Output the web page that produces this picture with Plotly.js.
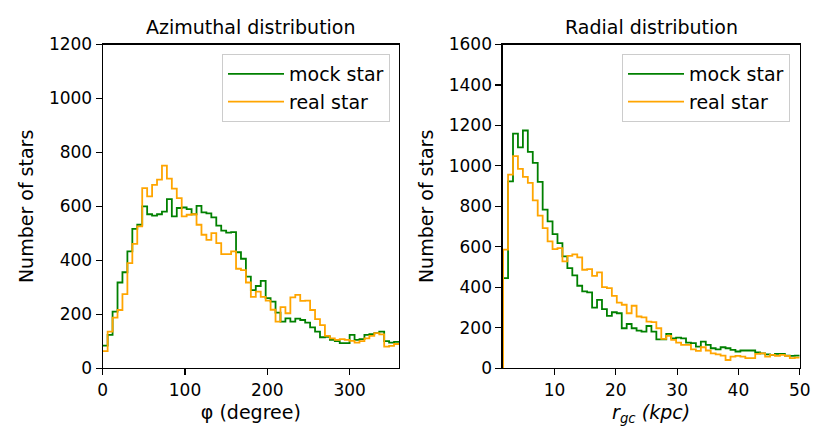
<!DOCTYPE html>
<html>
<head>
<meta charset="utf-8">
<script src="https://cdn.plot.ly/plotly-3.0.1.min.js"></script>
<style>
  html, body { margin: 0; padding: 0; background: #fff; }
  #chart { width: 830px; height: 447px; }
</style>
</head>
<body>
<div id="chart"></div>
<script>
// azimuthal histogram, 60 bins over 0..360 degree
const phiRange = [0, 360];
const mockPhi = [84, 124, 210, 318, 356, 433, 517, 532, 600, 571,
  566, 571, 581, 627, 563, 594, 596, 590, 571, 602,
  578, 574, 559, 529, 510, 503, 505, 430, 406, 340,
  290, 305, 324, 260, 247, 206, 173, 185, 173, 184,
  179, 169, 152, 136, 115, 117, 105, 101, 93, 93,
  124, 105, 108, 124, 127, 130, 136, 101, 95, 98];
const realPhi = [64, 136, 188, 216, 275, 390, 461, 526, 668, 637,
  680, 699, 751, 703, 666, 631, 563, 569, 571, 532,
  495, 476, 501, 464, 423, 423, 433, 369, 364, 318,
  265, 284, 265, 251, 217, 173, 227, 204, 263, 272,
  250, 251, 216, 182, 160, 120, 111, 105, 108, 105,
  102, 95, 101, 111, 120, 130, 126, 80, 83, 90];

// radial histogram, 60 bins over 1.6..50 kpc
const rRange = [1.6, 50];
const mockR = [446, 924, 1160, 1092, 1175, 1069, 1015, 921, 784, 726,
  663, 619, 553, 495, 459, 408, 380, 375, 300, 338,
  292, 259, 277, 272, 198, 219, 198, 186, 181, 209,
  181, 143, 143, 170, 148, 152, 148, 127, 124, 107,
  132, 116, 99, 94, 104, 99, 91, 83, 88, 88,
  88, 79, 74, 69, 66, 71, 71, 63, 61, 63];
const realR = [586, 957, 1048, 985, 946, 916, 830, 754, 693, 627,
  589, 594, 528, 556, 563, 548, 487, 490, 457, 474,
  401, 396, 358, 325, 314, 272, 309, 256, 252, 231,
  228, 198, 145, 160, 140, 127, 116, 116, 94, 86,
  104, 88, 74, 69, 63, 41, 58, 61, 58, 50,
  50, 71, 74, 58, 66, 61, 66, 61, 50, 53];

const seriesNames = ['mock star', 'real star'];
const seriesColors = ['#008000', '#ffa500'];

// outline of a step histogram (like histtype='step');
// the edges that sit on a spine are left out so the spine stays black
function stepLine(counts, range, fromZero) {
  const w = (range[1] - range[0]) / counts.length;
  const x = [], y = [];
  if (fromZero) { x.push(range[0]); y.push(0); }
  counts.forEach((c, i) => { x.push(range[0] + i * w); y.push(c); });
  x.push(range[1]); y.push(counts[counts.length - 1]);
  return {x: x, y: y};
}

function trace(counts, range, fromZero, k, xa, ya, leg) {
  const s = stepLine(counts, range, fromZero);
  return {
    x: s.x, y: s.y, type: 'scatter', mode: 'lines',
    line: {shape: 'hv', color: seriesColors[k], width: 1.8},
    name: seriesNames[k], xaxis: xa, yaxis: ya, legend: leg,
    hoverinfo: 'skip'
  };
}

const data = [
  trace(mockPhi, phiRange, false, 0, 'x', 'y', 'legend'),
  trace(realPhi, phiRange, false, 1, 'x', 'y', 'legend'),
  trace(mockR, rRange, true, 0, 'x2', 'y2', 'legend2'),
  trace(realR, rRange, true, 1, 'x2', 'y2', 'legend2')
];

const W = 830, H = 447;
const yDom = [(H - 368.3) / H, (H - 44.5) / H];

const axBase = {
  showline: true, mirror: true, linecolor: '#000', linewidth: 1.1,
  ticks: 'outside', ticklen: 6, tickwidth: 1.1, tickcolor: '#000',
  showgrid: false, zeroline: false,
  tickfont: {size: 17, color: '#000'}
};
const titleFont = {size: 19, color: '#000'};

const legBase = {
  xanchor: 'right', yanchor: 'top', y: (H - 54) / H,
  bgcolor: 'rgba(255,255,255,0.8)', bordercolor: '#cccccc', borderwidth: 1,
  itemwidth: 56,
  font: {size: 19, color: '#000'}
};

const layout = {
  width: W, height: H,
  margin: {l: 0, r: 0, t: 0, b: 0},
  paper_bgcolor: '#fff', plot_bgcolor: '#fff',
  font: {family: 'DejaVu Sans, sans-serif', color: '#000'},
  xaxis: Object.assign({}, axBase, {
    domain: [102.7 / W, 399 / W], anchor: 'y', range: phiRange,
    tickvals: [0, 100, 200, 300],
    title: {text: 'φ (degree)', font: titleFont, standoff: 6}
  }),
  yaxis: Object.assign({}, axBase, {
    domain: yDom, anchor: 'x', range: [0, 1200], dtick: 200,
    title: {text: 'Number of stars', font: titleFont, standoff: 10}
  }),
  xaxis2: Object.assign({}, axBase, {
    domain: [502.5 / W, 799.7 / W], anchor: 'y2', range: [1.5, 50],
    tickvals: [10, 20, 30, 40, 50],
    title: {text: '<i>r</i><sub><i>gc</i></sub> <i>(kpc)</i>', font: titleFont, standoff: 6}
  }),
  yaxis2: Object.assign({}, axBase, {
    domain: yDom, anchor: 'x2', range: [0, 1600], dtick: 200,
    title: {text: 'Number of stars', font: titleFont, standoff: 10}
  }),
  legend: Object.assign({}, legBase, {x: 390 / W}),
  legend2: Object.assign({}, legBase, {x: 790 / W}),
  annotations: [
    {text: 'Azimuthal distribution', x: 250.8 / W, y: (H - 27) / H,
     xref: 'paper', yref: 'paper', showarrow: false,
     xanchor: 'center', yanchor: 'middle', font: titleFont},
    {text: 'Radial distribution', x: 651 / W, y: (H - 27) / H,
     xref: 'paper', yref: 'paper', showarrow: false,
     xanchor: 'center', yanchor: 'middle', font: titleFont}
  ]
};

Plotly.newPlot('chart', data, layout, {displayModeBar: false, staticPlot: true});
</script>
</body>
</html>
